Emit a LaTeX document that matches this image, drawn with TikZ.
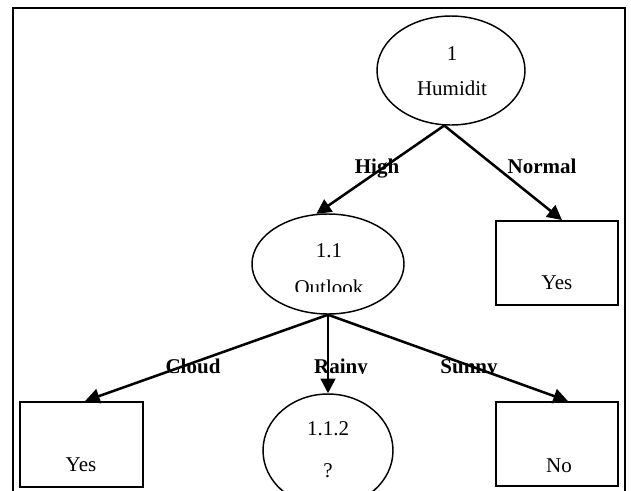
\documentclass[tikz,border=0pt]{standalone}
\usepackage{fontspec}
\setmainfont{Liberation Serif}
\usetikzlibrary{arrows.meta,shapes.geometric,calc}
\begin{document}
\begin{tikzpicture}[x=0.75pt,y=-0.75pt,
  oval/.style={draw,ellipse,line width=1.1pt,inner sep=0pt},
  leaf/.style={draw,rectangle,line width=1.4pt,inner sep=0pt,minimum width=91.5pt,minimum height=63pt},
  txt/.style={anchor=base,inner sep=0pt,font=\fontsize{15.75}{18}\selectfont},
  lbl/.style={anchor=base,inner sep=0pt,font=\fontsize{15.75}{18}\selectfont\bfseries},
  branch/.style={line width=1.9pt,-{Triangle[length=11pt,width=11pt]}}]
\clip (0,0) rectangle (631,490);
\fill[white] (0,0) rectangle (631,490);
% outer frame (runs past the lower edge)
\draw[line width=1.5pt] (12.5,8) rectangle (624.5,520);

% decision node: humidity
\node[oval,minimum width=111pt,minimum height=81.75pt] (root) at (451,70.5) {};
\node[txt] (rootid) at (452,60) {1};
\node[txt] (rootattr) at (452,95) {Humidit};

% decision node: outlook
\node[oval,minimum width=114pt,minimum height=75pt] (outlook) at (328,264) {};
\node[txt] (outlookid) at (329,257) {1.1};
\begin{scope}
  \clip (250,200) rectangle (410,291.5);
  \node[txt] (outlookattr) at (329,294) {Outlook};
\end{scope}

% open node under the rainy branch
\node[oval,minimum width=97.5pt,minimum height=84.75pt] (rainy) at (328,450.5) {};
\node[txt] (rainyid) at (328,435) {1.1.2};
\node[txt] (rainyq) at (328,477) {?};

% leaves
\node[leaf] (normalyes) at (557,263) {};
\node[txt] (normalyestxt) at (557,289) {Yes};
\node[leaf,minimum width=92.25pt,minimum height=63.75pt] (cloudyes) at (81.5,444.5) {};
\node[txt] (cloudyestxt) at (81,471.5) {Yes};
\node[leaf] (sunnyno) at (557,444) {};
\node[txt] (sunnynotxt) at (559,472) {No};

% branch labels
\node[lbl] (high) at (377,173) {High};
\node[lbl] (normal) at (542,173) {Normal};
\begin{scope}
  \clip (140,340) rectangle (530,373.5);
  \node[lbl] (cloud) at (193,373) {Cloud};
  \node[lbl] (rain) at (341,373) {Rainy};
  \node[lbl] (sun) at (469,373) {Sunny};
\end{scope}

% branches
\draw[branch] (root.263) -- (outlook.103);
\draw[branch] (root.263) -- ($(normalyes.north)+(5,0)$);
\draw[branch] (outlook.south) -- ($(cloudyes.north)+(3.5,0)$);
\draw[branch] (outlook.south) -- (rainy.north);
\draw[branch] (outlook.south) -- ($(sunnyno.north)+(11,0)$);
\end{tikzpicture}
\end{document}
